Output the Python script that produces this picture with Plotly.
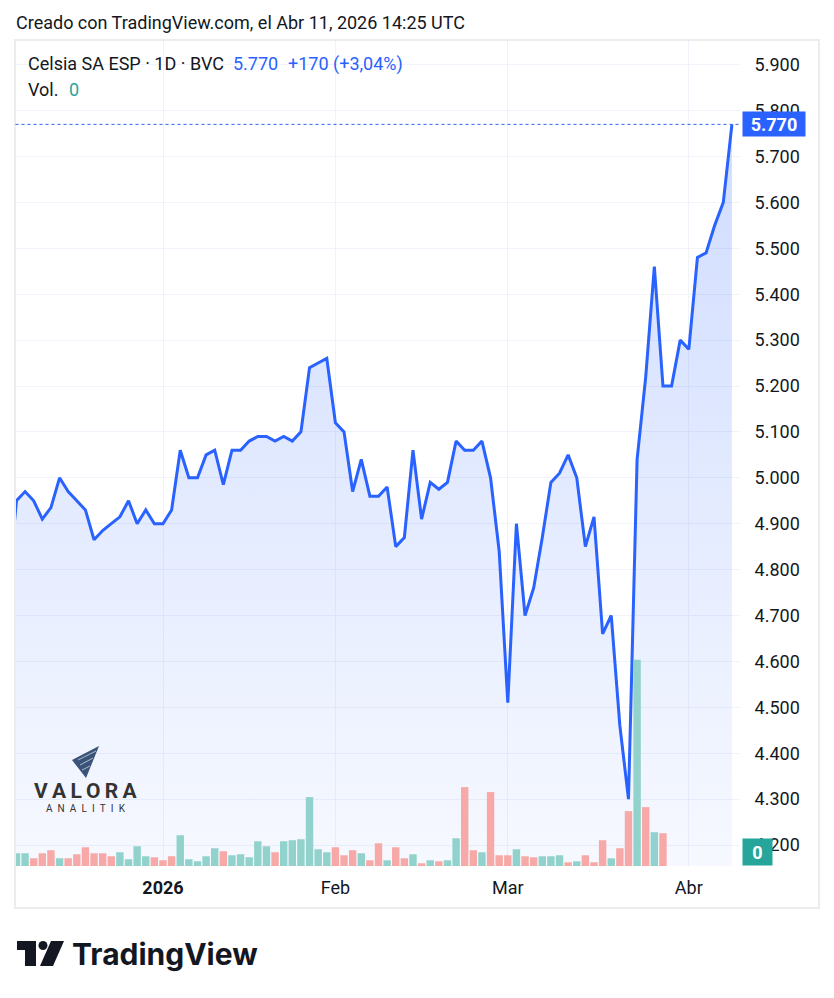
import plotly.graph_objects as go

# ---------------- data ----------------
W, H = 834, 998

# trading-bar index (0 = first session of 2026)
bar_index = list(range(-18, 67))

# daily close (COP)
close = [4750, 4950, 4970, 4950, 4910, 4935, 5000, 4970, 4950, 4930, 4865, 4885, 4900, 4915, 4950, 4900, 4930, 4900,
         4900, 4930, 5060, 5000, 5000, 5050, 5060, 4985, 5060, 5060, 5080, 5090, 5090, 5080, 5090, 5080, 5100, 5240, 5250, 5260,
         5120, 5100, 4970, 5040, 4960, 4960, 4980, 4850, 4870, 5060, 4910, 4990, 4975, 4990, 5080, 5060, 5060, 5080, 5000, 4840,
         4510, 4900, 4700, 4760, 4870, 4990, 5010, 5050, 5000, 4850, 4915, 4660, 4700, 4460, 4300, 5040, 5220, 5460, 5200, 5200, 5300,
         5280, 5480, 5490, 5550, 5600, 5770]

# daily volume (shares, estimated)
volume = [10000, 12700, 12700, 7700, 12700, 15700, 7700, 7700, 11700, 18700, 12700, 12700, 9700, 13700, 6700, 19700, 9700, 8700,
          5700, 9700, 30700, 6700, 4700, 9700, 17700, 14700, 10700, 11700, 8700, 24700, 19700, 13700, 24700, 25700, 26700, 68700, 16700, 13700,
          18700, 10700, 15700, 12700, 5700, 22700, 5700, 18700, 7700, 11700, 2700, 5700, 4700, 5700, 27700, 78700, 15700, 13700, 73700, 10700,
          10700, 16700, 9700, 8700, 9700, 9700, 10700, 3700, 4700, 10700, 3700, 25700, 7700, 17700, 54700, 205700, 58700, 33700, 32700, 0, 0,
          0, 0, 0, 0, 0, 0]

# 1 = up candle (teal volume), 0 = down candle (red volume)
candle_up = [1, 1, 1, 0, 0, 0, 1, 0, 0, 0, 0, 0, 0, 1, 1, 1, 1, 0,
             0, 0, 1, 1, 1, 1, 1, 0, 1, 1, 1, 1, 1, 0, 1, 1, 1, 1, 1, 1,
             0, 0, 0, 1, 0, 0, 1, 0, 0, 1, 0, 1, 0, 1, 1, 0, 0, 1, 0, 0,
             0, 1, 0, 0, 1, 1, 1, 0, 1, 0, 0, 0, 1, 0, 0, 1, 0, 1, 0, 0, 0,
             0, 1, 1, 1, 1, 1]

month_tick_index = [0, 20, 40, 61]
month_tick_labels = ["<b>2026</b>", "Feb", "Mar", "Abr"]

title_text = "Creado con TradingView.com, el Abr 11, 2026 14:25 UTC"
symbol_text = "Celsia SA ESP · 1D · BVC"

# ---------------- styling ----------------
FONT = "Roboto, 'Open Sans', sans-serif"
FS = 18
TXT = "#131722"
BLUE = "#2962ff"
TEAL = "#26a69a"
UP_COL = "#92d2cc"
DN_COL = "#f7a9a7"
GRID = "#f0f3fa"


def px(x):
    return x / W


def py(y):
    return 1 - y / H


# pane geometry (pixels)
PL, PR, PT, PB = 15.5, 740, 41, 866
BAR0_X, PITCH = 163, 8.62
PRICE_REF, PRICE_REF_Y, PX_PER_UNIT = 4200, 845, 0.459

x_range = [(PL - BAR0_X) / PITCH, (PR - BAR0_X) / PITCH]
y_range = [PRICE_REF - (PB - PRICE_REF_Y) / PX_PER_UNIT, PRICE_REF + (PRICE_REF_Y - PT) / PX_PER_UNIT]

last = close[-1]
prev = close[-2]
chg = last - prev
pct = chg / prev * 100


def fmt_int(v):
    return f"{v:,.0f}".replace(",", ".")


fig = go.Figure()

fig.add_trace(go.Bar(
    x=bar_index, y=volume, yaxis="y2",
    marker=dict(color=[UP_COL if u else DN_COL for u in candle_up], line=dict(width=0)),
    hoverinfo="skip",
))

fig.add_trace(go.Scatter(
    x=bar_index, y=close, mode="lines",
    line=dict(color=BLUE, width=3),
    fill="tozeroy",
    fillgradient=dict(type="vertical", start=y_range[0], stop=y_range[1],
                      colorscale=[[0, "rgba(41,98,255,0.04)"], [1, "rgba(41,98,255,0.24)"]]),
    hoverinfo="skip",
))

shapes = []
# outer frame
shapes.append(dict(type="rect", xref="paper", yref="paper", x0=px(15), x1=px(819), y0=py(40), y1=py(908),
                   line=dict(color="#ececec", width=2), fillcolor="rgba(0,0,0,0)", layer="above"))
# last price dotted line
shapes.append(dict(type="line", xref="paper", yref="y", x0=px(PL), x1=px(PR), y0=last, y1=last,
                   line=dict(color=BLUE, width=1, dash="dot"), layer="above"))


def poly(points):
    return "M " + " L ".join(f"{px(a)},{py(b)}" for a, b in points) + " Z"


# Valora logo icon
shapes.append(dict(type="path", xref="paper", yref="paper",
                   path=poly([(72, 760), (99, 746), (86, 778)]),
                   fillcolor="#3a5378", line=dict(width=0), layer="above"))
for (a, b) in [((78, 760), (96, 751)), ((80, 765), (93, 758)), ((82, 770), (90, 766))]:
    shapes.append(dict(type="line", xref="paper", yref="paper", x0=px(a[0]), y0=py(a[1]), x1=px(b[0]), y1=py(b[1]),
                       line=dict(color="rgba(255,255,255,0.6)", width=1), layer="above"))

# TradingView logo icon
shapes.append(dict(type="rect", xref="paper", yref="paper", x0=px(17), x1=px(36), y0=py(941), y1=py(950),
                   fillcolor="#131722", line=dict(width=0), layer="above"))
shapes.append(dict(type="rect", xref="paper", yref="paper", x0=px(25), x1=px(36), y0=py(941), y1=py(966),
                   fillcolor="#131722", line=dict(width=0), layer="above"))
shapes.append(dict(type="circle", xref="paper", yref="paper", x0=px(38.5), x1=px(47.5), y0=py(941), y1=py(950),
                   fillcolor="#131722", line=dict(width=0), layer="above"))
shapes.append(dict(type="path", xref="paper", yref="paper",
                   path=poly([(51, 941), (64, 941), (53, 966), (40, 966)]),
                   fillcolor="#131722", line=dict(width=0), layer="above"))

pct_txt = f"{pct:.2f}".replace(".", ",")

annotations = [
    dict(text=title_text, xref="paper", yref="paper", x=px(14), y=py(22), xanchor="left", yanchor="middle",
         showarrow=False, font=dict(family=FONT, size=FS, color=TXT)),
    dict(text=symbol_text, xref="paper", yref="paper", x=px(26), y=py(64), xanchor="left", yanchor="middle",
         showarrow=False, font=dict(family=FONT, size=FS, color=TXT)),
    dict(text=fmt_int(last), xref="paper", yref="paper", x=px(231), y=py(64), xanchor="left", yanchor="middle",
         showarrow=False, font=dict(family=FONT, size=FS, color=BLUE)),
    dict(text=f"+{fmt_int(chg)} (+{pct_txt}%)",
         xref="paper", yref="paper", x=px(286), y=py(64), xanchor="left", yanchor="middle",
         showarrow=False, font=dict(family=FONT, size=FS, color=BLUE)),
    dict(text="Vol.", xref="paper", yref="paper", x=px(26), y=py(89), xanchor="left", yanchor="middle",
         showarrow=False, font=dict(family=FONT, size=FS, color=TXT)),
    dict(text=fmt_int(volume[-1]), xref="paper", yref="paper", x=px(67), y=py(89), xanchor="left", yanchor="middle",
         showarrow=False, font=dict(family=FONT, size=FS, color=TEAL)),
    # last price label on scale
    dict(text=f"<b>{fmt_int(last)}</b>", xref="paper", yref="y", x=px(742), y=last, xanchor="left", yanchor="middle",
         showarrow=False, bgcolor=BLUE, borderpad=2, width=58, height=20, align="center",
         font=dict(family=FONT, size=FS, color="white")),
    # last volume label on scale
    dict(text=f"<b>{fmt_int(volume[-1])}</b>", xref="paper", yref="y2", x=px(742), y=0, xanchor="left", yanchor="bottom",
         showarrow=False, bgcolor=TEAL, borderpad=2, width=25, height=22, align="center",
         font=dict(family=FONT, size=FS, color="white")),
    # Valora watermark
    dict(text="<b>V\u2009A\u2009L\u2009O\u2009R\u2009A</b>", xref="paper", yref="paper", x=px(86), y=py(791),
         xanchor="center", yanchor="middle", showarrow=False, font=dict(family=FONT, size=21, color="#333333")),
    dict(text="A\u2002N\u2002A\u2002L\u2002I\u2002T\u2002I\u2002K", xref="paper", yref="paper", x=px(86), y=py(808),
         xanchor="center", yanchor="middle", showarrow=False, font=dict(family=FONT, size=10, color="#333333")),
    # TradingView wordmark
    dict(text="<b>TradingView</b>", xref="paper", yref="paper", x=px(70), y=py(954), xanchor="left", yanchor="middle",
         showarrow=False, font=dict(family="Inter, " + FONT, size=30, color="#131722")),
]

fig.update_layout(
    width=W, height=H,
    margin=dict(l=0, r=0, t=0, b=0),
    paper_bgcolor="white", plot_bgcolor="white",
    showlegend=False, hovermode=False,
    separators=",.",
    bargap=0.14,
    font=dict(family=FONT, size=FS, color=TXT),
    xaxis=dict(domain=[px(PL), px(PR)], range=x_range, showgrid=True, gridcolor=GRID, gridwidth=1,
               zeroline=False, showline=False, tickmode="array", tickvals=month_tick_index,
               ticktext=month_tick_labels, ticks="outside", ticklen=5, tickcolor="rgba(0,0,0,0)",
               tickfont=dict(family=FONT, size=FS, color=TXT), automargin=False, fixedrange=True),
    yaxis=dict(domain=[py(PB), py(PT)], range=y_range, side="right", showgrid=True, gridcolor=GRID, gridwidth=1,
               zeroline=False, showline=False, tick0=0, dtick=100, tickformat=",d",
               ticks="outside", ticklen=10, tickcolor="rgba(0,0,0,0)",
               tickfont=dict(family=FONT, size=FS, color=TXT), automargin=False, fixedrange=True),
    yaxis2=dict(overlaying="y", range=[0, max(volume) / 0.25], visible=False, fixedrange=True),
    shapes=shapes,
    annotations=annotations,
)

fig.write_html("out.html",
               config={"displayModeBar": False},
               post_script="document.body.style.margin='0px';document.body.style.overflow='hidden';")
